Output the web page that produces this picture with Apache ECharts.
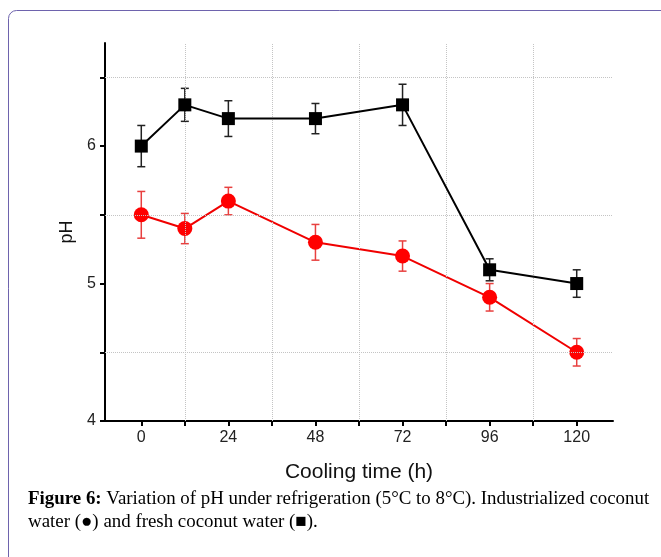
<!DOCTYPE html>
<html>
<head>
<meta charset="utf-8">
<script src="https://cdn.jsdelivr.net/npm/echarts@6/dist/echarts.min.js"></script>
<style>
html,body{margin:0;padding:0;background:#fff;}
#chart{width:661px;height:557px;}
</style>
</head>
<body>
<div id="chart"></div>
<script>
// Data
var time = [0, 12, 24, 48, 72, 96, 120];
var freshPH = [6.0, 6.3, 6.2, 6.2, 6.3, 5.1, 5.0];
var freshErr = [0.15, 0.12, 0.13, 0.11, 0.15, 0.08, 0.10];
var industPH = [5.5, 5.4, 5.6, 5.3, 5.2, 4.9, 4.5];
var industErr = [0.17, 0.11, 0.10, 0.13, 0.11, 0.10, 0.10];
var xTickValues = [0, 12, 24, 36, 48, 60, 72, 84, 96, 108, 120];
var xLabelValues = [0, 24, 48, 72, 96, 120];
var yTickValues = [4, 4.5, 5, 5.5, 6, 6.5];
var yLabelValues = [4, 5, 6];
var xGridValues = [12, 36, 60, 84, 108];
var yGridValues = [4.5, 5.5, 6.5];

function pairs(xs, ys) { return xs.map(function (x, i) { return [x, ys[i]]; }); }
function errs(xs, ys, es) { return xs.map(function (x, i) { return [x, ys[i] - es[i], ys[i] + es[i]]; }); }

function errorBarSeries(data, color) {
  return {
    type: 'custom',
    data: data,
    z: 3,
    silent: true,
    renderItem: function (params, api) {
      var x = api.value(0);
      var lo = api.coord([x, api.value(1)]);
      var hi = api.coord([x, api.value(2)]);
      var hw = 4;
      var st = { stroke: color, lineWidth: 1.5 };
      return {
        type: 'group',
        children: [
          { type: 'line', shape: { x1: lo[0], y1: lo[1], x2: hi[0], y2: hi[1] }, style: st },
          { type: 'line', shape: { x1: lo[0] - hw, y1: lo[1], x2: lo[0] + hw, y2: lo[1] }, style: st },
          { type: 'line', shape: { x1: hi[0] - hw, y1: hi[1], x2: hi[0] + hw, y2: hi[1] }, style: st }
        ]
      };
    }
  };
}

var gridMarks = xGridValues.map(function (v) { return { xAxis: v }; })
  .concat(yGridValues.map(function (v) { return { yAxis: v }; }));

var chart = echarts.init(document.getElementById('chart'), null, { renderer: 'canvas' });
chart.setOption({
  backgroundColor: '#fff',
  animation: false,
  title: {
    left: 23,
    top: 483,
    text: '{b|Figure 6:}{n| Variation of pH under refrigeration (5°C to 8°C). Industrialized coconut}\n{n|water (●) and fresh coconut water (■).}',
    textStyle: {
      fontFamily: 'Liberation Serif',
      fontSize: 18.9,
      fontWeight: 'normal',
      color: '#000',
      lineHeight: 23,
      rich: {
        b: { fontFamily: 'Liberation Serif', fontSize: 18.9, fontWeight: 'bold', color: '#000', lineHeight: 23 },
        n: { fontFamily: 'Liberation Serif', fontSize: 18.9, fontWeight: 'normal', color: '#000', lineHeight: 23 }
      }
    }
  },
  graphic: [{
    type: 'rect',
    z: -10,
    silent: true,
    shape: { x: 8.5, y: 10.5, width: 800, height: 700, r: 8 },
    style: { fill: 'none', stroke: '#6e63ad', lineWidth: 1 }
  }],
  grid: { left: 105, right: 48, top: 43, bottom: 136, containLabel: false },
  xAxis: {
    type: 'value',
    min: -10,
    max: 130,
    name: 'Cooling time (h)',
    nameLocation: 'middle',
    nameGap: 41,
    nameTextStyle: { fontFamily: 'Liberation Sans', fontSize: 21, color: '#111' },
    axisLine: { show: true, onZero: false, lineStyle: { color: '#000', width: 2 } },
    axisTick: { show: true, inside: false, length: 5, customValues: xTickValues, lineStyle: { color: '#000', width: 2 } },
    axisLabel: { show: true, customValues: xLabelValues, margin: 9, fontFamily: 'Liberation Sans', fontSize: 16, color: '#222' },
    splitLine: { show: false }
  },
  yAxis: {
    type: 'value',
    min: 4,
    max: 6.75,
    name: 'pH',
    nameLocation: 'middle',
    nameGap: 28,
    nameRotate: 90,
    nameTextStyle: { fontFamily: 'Liberation Sans', fontSize: 18, color: '#111' },
    axisLine: { show: true, onZero: false, lineStyle: { color: '#000', width: 2 } },
    axisTick: { show: true, inside: false, length: 5, customValues: yTickValues, lineStyle: { color: '#000', width: 2 } },
    axisLabel: { show: true, customValues: yLabelValues, margin: 9, fontFamily: 'Liberation Sans', fontSize: 16, color: '#222' },
    splitLine: { show: false }
  },
  series: [
    {
      type: 'line',
      data: [],
      z: 0,
      silent: true,
      markLine: {
        silent: true,
        symbol: ['none', 'none'],
        label: { show: false },
        lineStyle: { type: 'dotted', color: '#c4c4c4', width: 1 },
        data: gridMarks
      }
    },
    errorBarSeries(errs(time, industPH, industErr), '#e8403f'),
    {
      name: 'Industrialized',
      type: 'line',
      z: 4,
      data: pairs(time, industPH),
      symbol: 'circle',
      symbolSize: 15,
      itemStyle: { color: '#ff0000' },
      lineStyle: { color: '#f00000', width: 2 }
    },
    errorBarSeries(errs(time, freshPH, freshErr), '#222'),
    {
      name: 'Fresh',
      type: 'line',
      z: 5,
      data: pairs(time, freshPH),
      symbol: 'rect',
      symbolSize: 13,
      itemStyle: { color: '#000' },
      lineStyle: { color: '#000', width: 2 }
    }
  ]
});
</script>
</body>
</html>
